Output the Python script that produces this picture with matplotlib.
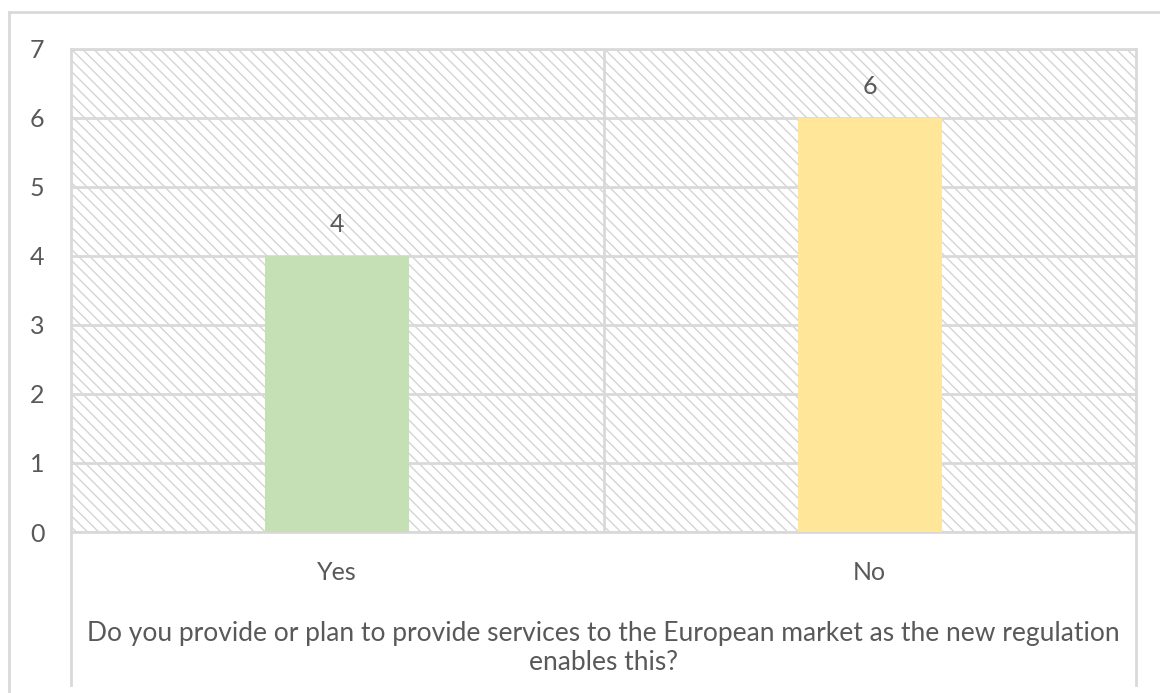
import matplotlib.pyplot as plt
from matplotlib.patches import Rectangle
from matplotlib.lines import Line2D

categories = ['Yes', 'No']
counts = [4, 6]
bar_colors = ['#c5e0b4', '#ffe699']
y_ticks = [0, 1, 2, 3, 4, 5, 6, 7]
title_lines = ['Do you provide or plan to provide services to the European market as the new regulation',
               'enables this?']

W, H = 1160, 693
grid_c = '#d9d9d9'
text_c = '#595959'
fs = 18

plt.rcParams['font.family'] = ['Lato', 'DejaVu Sans']
plt.rcParams['hatch.linewidth'] = 1.0

fig = plt.figure(figsize=(W / 100, H / 100), dpi=100)

# plot area in pixel terms
x0, x1, y0, y1 = 71, 1136, 49, 532
ax = fig.add_axes([x0 / W, 1 - y1 / H, (x1 - x0) / W, (y1 - y0) / H])

# hatched background of the plot area
ax.add_patch(Rectangle((0, 0), 1, 1, transform=ax.transAxes, facecolor='white',
                       edgecolor='#d4d4d4', hatch='\\\\\\', linewidth=0, zorder=0))

x = list(range(len(categories)))
ax.bar(x, counts, width=0.27, color=bar_colors, zorder=3)
for xi, v in zip(x, counts):
    ax.annotate(str(v), (xi, v), xytext=(0, 23), textcoords='offset points',
                ha='center', va='center', fontsize=fs, color=text_c)

ax.set_xlim(-0.5, len(categories) - 0.5)
ax.set_ylim(0, 7)
ax.set_yticks(y_ticks)
ax.set_yticklabels([str(t) for t in y_ticks], fontsize=fs, color=text_c)
ax.tick_params(axis='y', length=0, pad=19)
ax.set_xticks([])
ax.yaxis.grid(True, color=grid_c, linewidth=2, zorder=1)
ax.set_axisbelow(True)
ax.axvline(0.5, color=grid_c, linewidth=2, zorder=1)
for s in ax.spines.values():
    s.set_color(grid_c)
    s.set_linewidth(2)

# category labels and axis title below the plot
for xi, c in zip(x, categories):
    ax.annotate(c, (xi, 0), xytext=(0, -29), textcoords='offset points',
                ha='center', va='center', fontsize=fs, color=text_c)
for i, line in enumerate(title_lines):
    fig.text((x0 + x1) / 2 / W, 1 - (633 + 30 * i) / H, line, ha='center', va='center',
             fontsize=19, color=text_c)

# side borders of the category axis area
for px in (x0, x1):
    fig.add_artist(Line2D([px / W, px / W], [1 - y1 / H, 1 - 685 / H],
                          color=grid_c, linewidth=2))

# outer chart frame
fig.add_artist(Line2D([9 / W, 1], [1 - 12 / H, 1 - 12 / H], color=grid_c, linewidth=2))
fig.add_artist(Line2D([9 / W, 9 / W], [1 - 12 / H, 0], color=grid_c, linewidth=2))

fig.savefig('out.png', dpi=100, facecolor='white')
